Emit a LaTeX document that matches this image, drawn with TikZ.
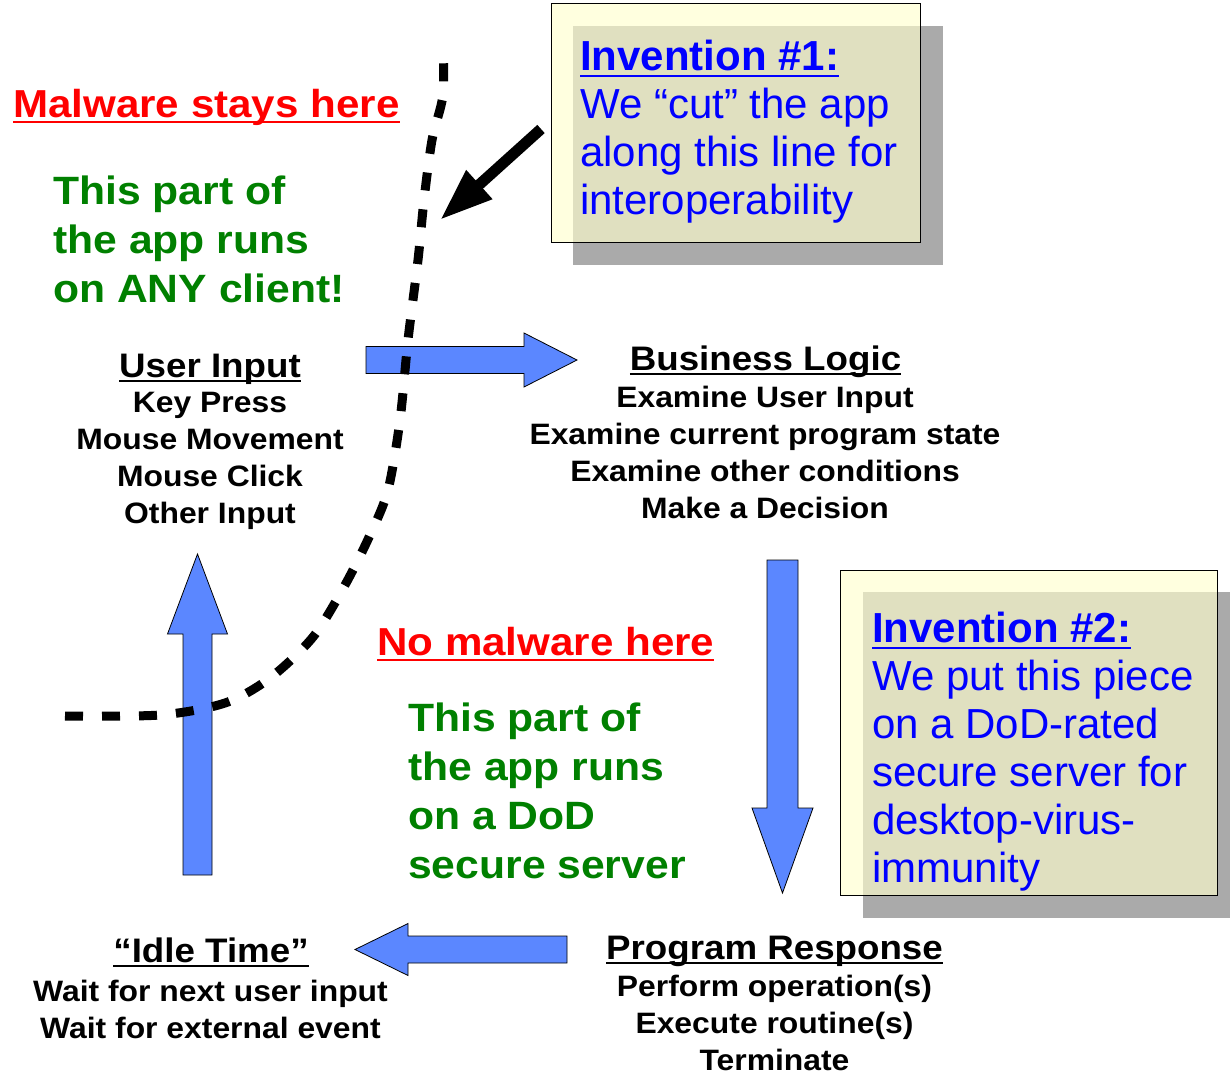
\documentclass[tikz,border=0pt]{standalone}
\usepackage{fontspec}
\setmainfont{Liberation Sans}
\newfontfamily\widesans[FakeStretch=1.08]{Liberation Sans}
\usetikzlibrary{arrows.meta}
\definecolor{arrowblue}{HTML}{5B87FF}
\definecolor{placegreen}{HTML}{008000}
\definecolor{noteyellow}{HTML}{FFFFCD}
\definecolor{shadowgray}{HTML}{AAAAAA}
\newsavebox\ulbox
\newcommand{\ulined}[1]{\sbox\ulbox{#1}\rlap{\usebox\ulbox}\rule[-0.16em]{\wd\ulbox}{0.065em}}
\begin{document}
\begin{tikzpicture}[x=1pt,y=-1pt,
  headtext/.style={font=\widesans\bfseries\fontsize{34}{40}\selectfont,inner sep=0,anchor=base},
  steptext/.style={font=\widesans\bfseries\fontsize{29.5}{37}\selectfont,inner sep=0,anchor=north,align=center},
  warntext/.style={font=\widesans\bfseries\fontsize{39}{46}\selectfont,text=red,inner sep=0,anchor=base west},
  placetext/.style={font=\widesans\bfseries\fontsize{39.5}{49}\selectfont,text=placegreen,inner sep=0,anchor=north west,align=left},
  notetext/.style={font=\fontsize{42}{48}\selectfont,text=blue,inner sep=0,anchor=north west,align=left},
  notebox/.style={draw=black,line width=1pt,fill=noteyellow,fill opacity=0.64},
  shadowbox/.style={fill=shadowgray},
  blockfill/.style={draw=black,line width=0.8pt,fill=arrowblue},
  cutline/.style={line width=9pt,dash pattern=on 18pt off 19pt},
  cutpointer/.style={line width=11pt,-{Triangle[length=53pt,width=36pt]}},
  pics/blockarrow/.style args={#1/#2/#3/#4}{code={
    \draw[blockfill] (0,-#2) -- ({#1-#4},-#2) -- ({#1-#4},-#3) -- (#1,0)
      -- ({#1-#4},#3) -- ({#1-#4},#2) -- (0,#2) -- cycle;}}]
\useasboundingbox (0,0) rectangle (1230,1073);

% the two invention notes
\fill[shadowbox] (573,26) rectangle (943,265);
\draw[notebox] (551,4) rectangle (920,242);
\node[notetext] (inv1) at (580,40) {\ulined{\bfseries Invention \#1:}\\We “cut” the app\\along this line for\\interoperability};
\fill[shadowbox] (863,592) rectangle (1230,918);
\draw[notebox] (840,570) rectangle (1217,895);
\node[notetext] (inv2) at (872,612) {\ulined{\bfseries Invention \#2:}\\We put this piece\\on a DoD-rated\\secure server for\\desktop-virus-\\immunity};

% the loop of block arrows
\pic at (366,360) {blockarrow={211/13.5/27/53}};
\pic[rotate=-90] at (782.5,560) {blockarrow={333/15.5/30.5/85}};
\pic[rotate=180] at (567,949.5) {blockarrow={212/13.5/26/53}};
\pic[rotate=90] at (197.5,875) {blockarrow={321/14.5/30/80}};

% the cut
\draw[cutline] plot[smooth] coordinates {(65,716) (160,715) (225,703) (270,678) (313,637) (345,585) (370,535) (388,490) (400,420) (408,340) (418,260) (424,200) (432,140) (443,95) (443,45)};
\coordinate (cutfrom) at (541,129);
\coordinate (cutto) at (440,220);
\draw[cutpointer] (cutfrom) -- (cutto);

% texts
\node[warntext] (malware) at (13,117) {\ulined{Malware stays here}};
\node[placetext] (client) at (53,176) {This part of\\the app runs\\on ANY client!};
\node[headtext] (input) at (210,377) {\ulined{User Input}};
\node[steptext] (inputs) at (210,392) {Key Press\\Mouse Movement\\Mouse Click\\Other Input};
\node[headtext] (logic) at (765.5,370) {\ulined{Business Logic}};
\node[steptext] (logics) at (765,386) {Examine User Input\\Examine current program state\\Examine other conditions\\Make a Decision};
\node[warntext] (nomalware) at (377,655) {\ulined{No malware here}};
\node[placetext] (server) at (408,703) {This part of\\the app runs\\on a DoD\\secure server};
\node[headtext] (idle) at (211,962) {\ulined{“Idle Time”}};
\node[steptext] (idles) at (210.5,979.5) {Wait for next user input\\Wait for external event};
\node[headtext] (response) at (774.5,959) {\ulined{Program Response}};
\node[steptext] (responses) at (774.5,975) {Perform operation(s)\\Execute routine(s)\\Terminate};
\end{tikzpicture}
\end{document}
